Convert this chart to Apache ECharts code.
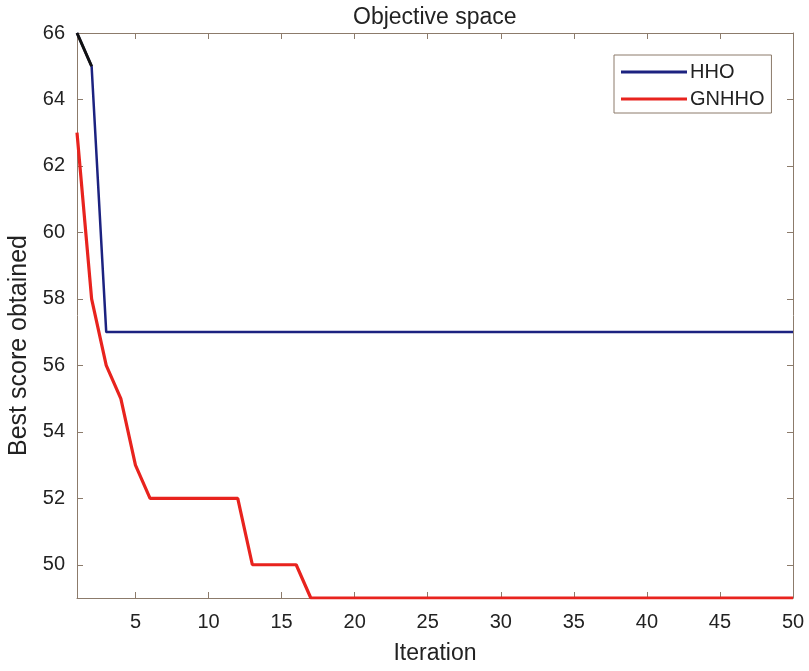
<!DOCTYPE html>
<html><head><meta charset="utf-8">
<script src="https://cdn.jsdelivr.net/npm/echarts@6/dist/echarts.min.js"></script>
<style>html,body{margin:0;padding:0;background:#fff}#c{width:809px;height:671px}</style>
</head><body><div id="c"></div>
<script>
const iterations = Array.from({length: 50}, (_, i) => i + 1);
const hho = [66,65,57,57,57,57,57,57,57,57,57,57,57,57,57,57,57,57,57,57,57,57,57,57,57,57,57,57,57,57,57,57,57,57,57,57,57,57,57,57,57,57,57,57,57,57,57,57,57,57];
const gnhho = [63,58,56,55,53,52,52,52,52,52,52,52,50,50,50,50,49,49,49,49,49,49,49,49,49,49,49,49,49,49,49,49,49,49,49,49,49,49,49,49,49,49,49,49,49,49,49,49,49,49];
const xTicks = [5,10,15,20,25,30,35,40,45,50];
const yTicks = [50,52,54,56,58,60,62,64,66];

const axisColor = '#8c7b6b';
const font = '"Liberation Sans", Arial, sans-serif';
const pair = arr => iterations.map((x, i) => [x, arr[i]]);

const chart = echarts.init(document.getElementById('c'));
chart.setOption({
  animation: false,
  backgroundColor: '#fff',
  title: { text: 'Objective space', left: 353, top: 2, padding: [4, 0, 4, 0],
    textStyle: { fontFamily: font, fontWeight: 'normal', fontSize: 23, color: '#222' } },
  grid: { left: 77, top: 33, right: 16, bottom: 73, outerBoundsMode: 'none', containLabel: false },
  legend: {
    orient: 'vertical', left: 614, top: 55,
    padding: [7, 7, 4, 7], itemGap: 7,
    itemWidth: 66, itemHeight: 3, icon: 'rect',
    borderColor: axisColor, borderWidth: 1, backgroundColor: '#fff',
    data: ['HHO', 'GNHHO'],
    textStyle: { fontFamily: font, fontSize: 20, color: '#222', padding: [0,0,0,-2] }
  },
  xAxis: [
    { type: 'value', min: 1, max: 50, position: 'bottom',
      name: 'Iteration', nameLocation: 'middle', nameGap: 44,
      nameTextStyle: { fontFamily: font, fontSize: 23, color: '#222' },
      axisLine: { show: true, lineStyle: { color: axisColor, width: 1 } },
      axisTick: { show: true, inside: true, length: 6, customValues: xTicks, lineStyle: { color: axisColor } },
      axisLabel: { customValues: xTicks, fontFamily: font, fontSize: 20, color: '#222', margin: 14 },
      splitLine: { show: false } },
    { type: 'value', min: 1, max: 50, position: 'top',
      axisLine: { show: true, lineStyle: { color: axisColor, width: 1 } },
      axisTick: { show: true, inside: true, length: 6, customValues: xTicks, lineStyle: { color: axisColor } },
      axisLabel: { show: false }, splitLine: { show: false } }
  ],
  yAxis: [
    { type: 'value', min: 49, max: 66, position: 'left',
      name: 'Best score obtained', nameLocation: 'middle', nameGap: 43, nameRotate: 90,
      nameTextStyle: { fontFamily: font, fontSize: 25, color: '#222', padding: [0, 60, 0, 0] },
      axisLine: { show: true, lineStyle: { color: axisColor, width: 1 } },
      axisTick: { show: true, inside: true, length: 6, customValues: yTicks, lineStyle: { color: axisColor } },
      axisLabel: { customValues: yTicks, fontFamily: font, fontSize: 20, color: '#222', margin: 12 },
      splitLine: { show: false } },
    { type: 'value', min: 49, max: 66, position: 'right',
      axisLine: { show: true, lineStyle: { color: axisColor, width: 1 } },
      axisTick: { show: true, inside: true, length: 6, customValues: yTicks, lineStyle: { color: axisColor } },
      axisLabel: { show: false }, splitLine: { show: false } }
  ],
  series: [
    { name: 'HHO', type: 'line', data: pair(hho), symbol: 'none', z: 3,
      color: '#1c2280', lineStyle: { width: 2.5, color: '#1c2280' } },
    { name: 'GNHHO', type: 'line', data: pair(gnhho), symbol: 'none', z: 4,
      color: '#e8231e', lineStyle: { width: 3.2, color: '#e8231e' } },
    { name: 'HHO-start', type: 'line', data: pair(hho).slice(0, 2), symbol: 'none', z: 5,
      color: '#111', lineStyle: { width: 3, color: '#111' } }
  ]
});
</script></body></html>
